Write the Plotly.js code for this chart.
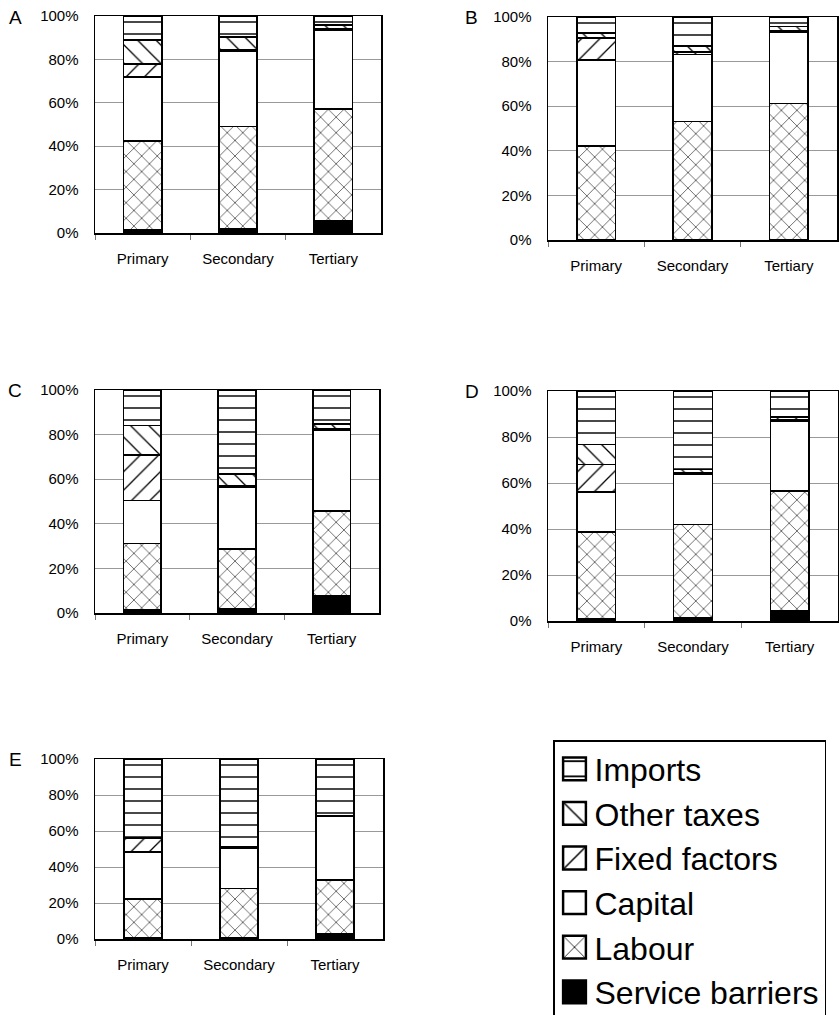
<!DOCTYPE html>
<html>
<head>
<meta charset="utf-8">
<script src="https://cdn.plot.ly/plotly-3.0.1.min.js"></script>
<style>
  html, body { margin: 0; padding: 0; background: #fff; }
  #chart { width: 839px; height: 1015px; }
</style>
</head>
<body>
<div id="chart"></div>
<script>
// ---- Data (percent shares, stacked bottom to top) ----
const categories = ["Primary", "Secondary", "Tertiary"];
const panels = ["A", "B", "C", "D", "E"];
const seriesNames = ["Service barriers", "Labour", "Capital", "Fixed factors", "Other taxes", "Imports"];

// each array: [Primary, Secondary, Tertiary]
const serviceBarriers = {
  A: [1.5, 1.8, 5.4],
  B: [0.3, 0.3, 0.3],
  C: [1.5, 2.1, 7.5],
  D: [1.0, 1.3, 4.6],
  E: [0.5, 0.5, 3.1]
};
const labour = {
  A: [41.0, 47.2, 51.8],
  B: [41.9, 52.8, 60.9],
  C: [29.7, 26.6, 38.2],
  D: [37.8, 40.6, 51.9],
  E: [21.7, 27.5, 29.7]
};
const capital = {
  A: [29.5, 34.6, 36.4],
  B: [38.4, 30.0, 31.8],
  C: [19.2, 27.7, 36.4],
  D: [17.3, 21.9, 30.5],
  E: [26.3, 22.4, 35.2]
};
const fixedFactors = {
  A: [6.0, 0.8, 0.5],
  B: [10.0, 1.2, 0.6],
  C: [20.5, 0.6, 0.7],
  D: [11.9, 0.8, 0.4],
  E: [7.4, 0.2, 0.0]
};
const otherTaxes = {
  A: [11.0, 5.8, 1.8],
  B: [2.2, 2.7, 2.2],
  C: [13.1, 5.4, 2.0],
  D: [8.7, 1.3, 1.3],
  E: [0.6, 0.4, 0.3]
};
const imports = {
  A: [11.0, 9.8, 4.1],
  B: [7.2, 13.0, 4.2],
  C: [16.0, 37.6, 15.2],
  D: [23.3, 34.1, 11.3],
  E: [43.5, 49.0, 31.7]
};
const yTickVals = [0, 20, 40, 60, 80, 100];
const yTickText = ["0%", "20%", "40%", "60%", "80%", "100%"];

// ---- Styling ----
const seriesData = [serviceBarriers, labour, capital, fixedFactors, otherTaxes, imports];
const seriesMarker = [
  { color: "#000000" },
  { color: "#ffffff", pattern: { shape: "x", fgcolor: "#000", bgcolor: "#fff", size: 11, solidity: 0.1 } },
  { color: "#ffffff" },
  { color: "#ffffff", pattern: { shape: "/", fgcolor: "#000", bgcolor: "#fff", size: 13, solidity: 0.1 } },
  { color: "#ffffff", pattern: { shape: "\\", fgcolor: "#000", bgcolor: "#fff", size: 13, solidity: 0.1 } },
  { color: "#ffffff", pattern: { shape: "-", fgcolor: "#000", bgcolor: "#fff", size: 12, solidity: 0.12 } }
];

// panel domains in pixels: [left, right, top, bottom]
const W = 839, H = 1015;
const boxes = {
  A: [95, 381, 16, 233],
  B: [548, 837, 17, 240],
  C: [95, 379, 390, 613],
  D: [548, 838, 391, 621],
  E: [95, 383, 759, 939]
};
const letterPos = { A: [15, 17], B: [471, 17], C: [15, 390], D: [472, 391], E: [15, 759] };

const FONT = "Arial, 'Liberation Sans', sans-serif";
const traces = [];
const layout = {
  width: W, height: H,
  margin: { l: 0, r: 0, t: 0, b: 0, autoexpand: false },
  paper_bgcolor: "#fff",
  plot_bgcolor: "#fff",
  barmode: "stack",
  bargap: 0.6,
  font: { family: FONT, color: "#000", size: 15 },
  showlegend: true,
  legend: {
    x: 553 / W, y: 1 - 736 / H, xanchor: "left", yanchor: "top",
    traceorder: "reversed",
    bordercolor: "#000", borderwidth: 1.5, bgcolor: "#fff",
    font: { family: FONT, size: 32, color: "#000" },
    itemwidth: 30
  },
  annotations: [],
  shapes: []
};

panels.forEach((p, i) => {
  const n = i + 1;
  const xa = "x" + (n === 1 ? "" : n);
  const ya = "y" + (n === 1 ? "" : n);
  seriesNames.forEach((name, s) => {
    traces.push({
      type: "bar",
      name: name,
      x: categories,
      y: seriesData[s][p],
      xaxis: xa, yaxis: ya,
      marker: Object.assign({ line: { color: "#000", width: 1.6 } }, seriesMarker[s]),
      showlegend: i === 0,
      hoverinfo: "skip"
    });
  });
  const b = boxes[p];
  layout["xaxis" + (n === 1 ? "" : n)] = {
    domain: [b[0] / W, b[1] / W],
    anchor: ya,
    type: "category",
    range: [-0.5, 2.5],
    showline: true, linecolor: "#000", linewidth: 1.5, mirror: true,
    ticks: "outside", tickson: "boundaries", ticklen: 5, tickcolor: "#777", tickwidth: 1,
    showgrid: false,
    tickfont: { family: FONT, size: 15, color: "#000" },
    ticklabelstandoff: 11,
    fixedrange: true
  };
  layout["yaxis" + (n === 1 ? "" : n)] = {
    domain: [1 - b[3] / H, 1 - b[2] / H],
    anchor: xa,
    range: [0, 100],
    tickvals: yTickVals, ticktext: yTickText,
    showline: true, linecolor: "#000", linewidth: 1.5, mirror: true,
    showgrid: true, gridcolor: "#999", gridwidth: 1,
    zeroline: false,
    ticks: "",
    tickfont: { family: FONT, size: 15, color: "#000" },
    ticklabelstandoff: 12,
    fixedrange: true
  };
  layout.annotations.push({
    xref: "paper", yref: "paper",
    x: letterPos[p][0] / W, y: 1 - letterPos[p][1] / H,
    xanchor: "center", yanchor: "middle",
    text: p, showarrow: false,
    font: { family: FONT, size: 19, color: "#000" }
  });
});

Plotly.newPlot("chart", traces, layout, { staticPlot: true, displayModeBar: false }).then(gd => {
  gd.querySelectorAll(".legend .legendpoints path").forEach(pth => {
    const t = pth.getAttribute("transform") || "";
    pth.setAttribute("transform", t + " scale(1.9)");
    pth.style.strokeWidth = "1.3px";
  });
  // shift the legend box a few pixels lower so it runs off the bottom edge, as in the reference
  const lg = gd.querySelector("g.legend");
  if (lg) {
    const t = lg.getAttribute("transform") || "";
    lg.setAttribute("transform", t + " translate(0,4)");
  }
});
</script>
</body>
</html>
